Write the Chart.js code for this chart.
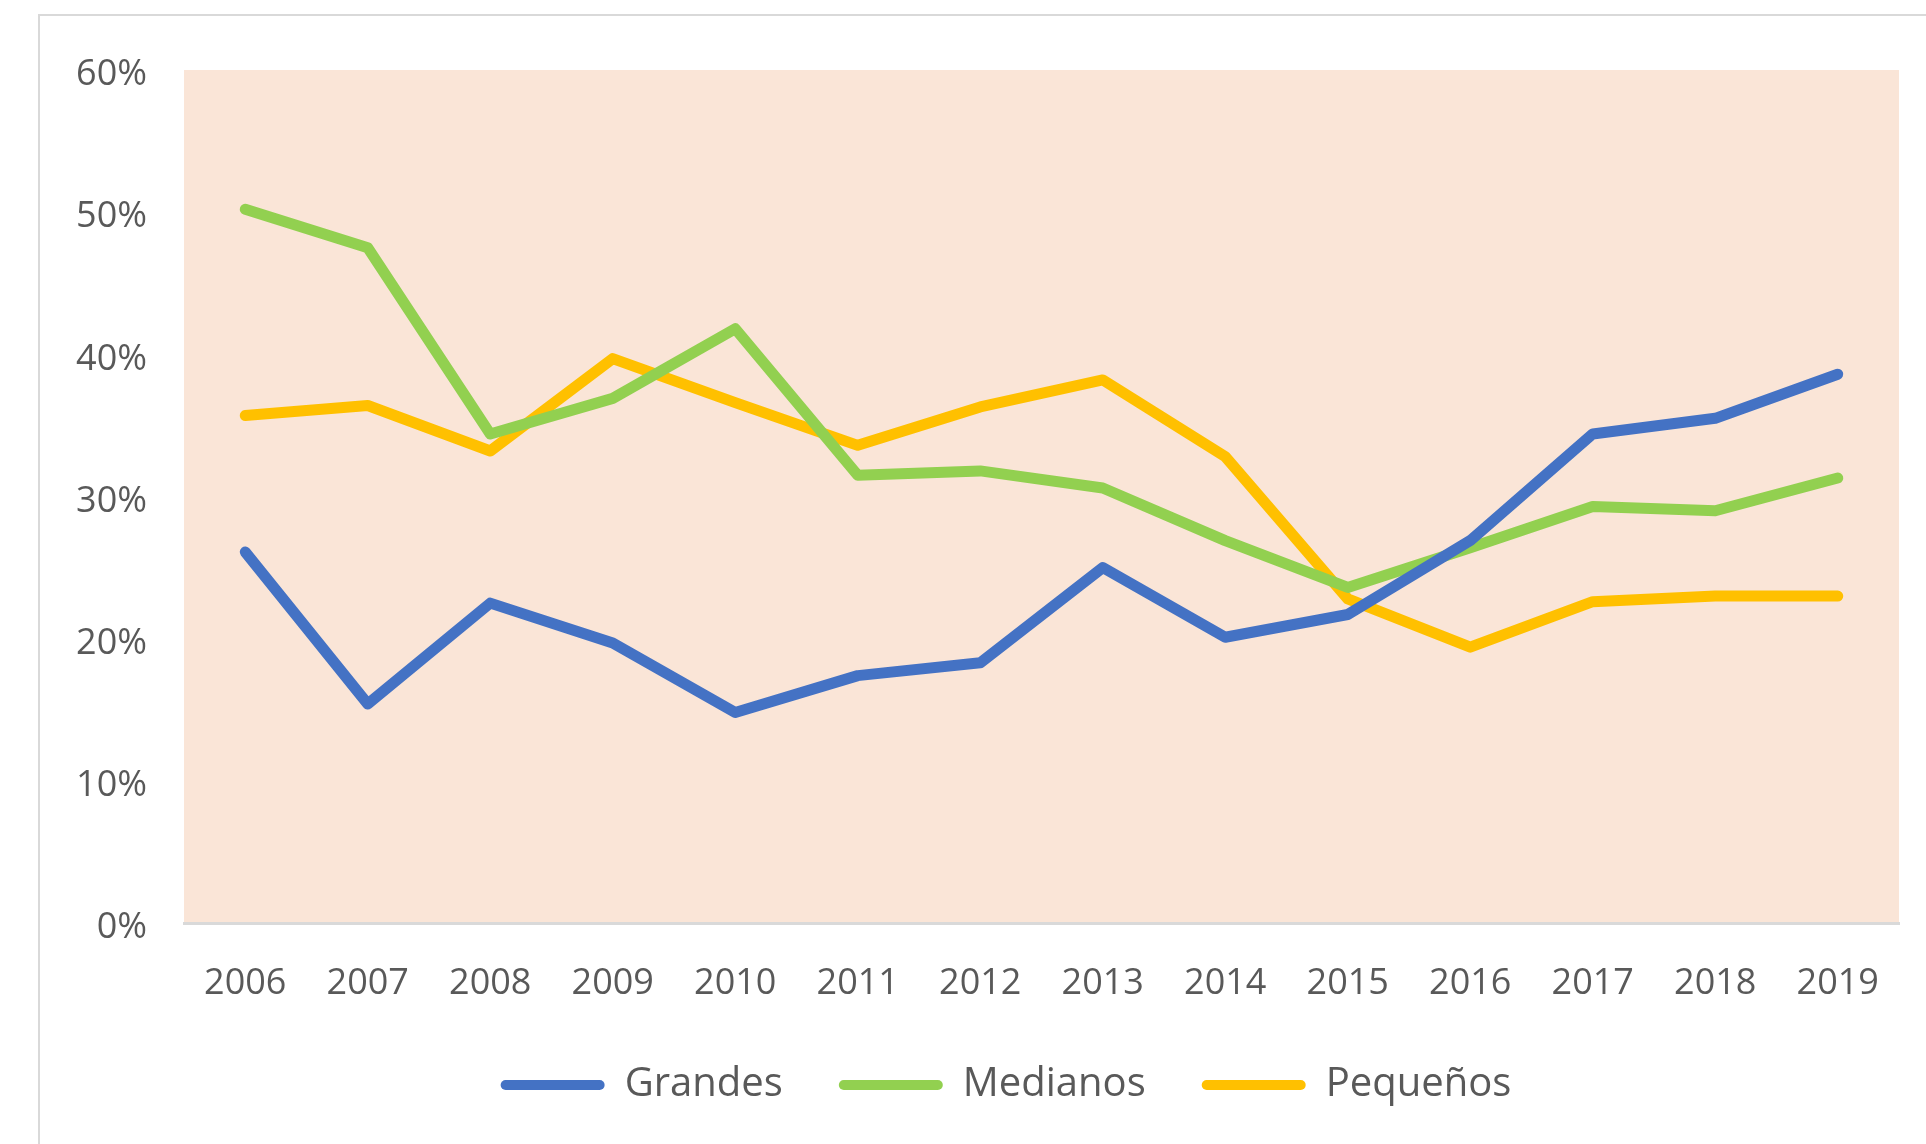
<!DOCTYPE html>
<html>
<head>
<meta charset="utf-8">
<script src="https://cdn.jsdelivr.net/npm/chart.js@4/dist/chart.umd.min.js"></script>
<style>
  html, body { margin: 0; padding: 0; background: #ffffff; overflow: hidden; }
  #frame {
    position: absolute; left: 38px; top: 14px; width: 2000px; height: 1200px;
    border-left: 2px solid #d9d9d9; border-top: 2px solid #d9d9d9;
  }
  #wrap { position: absolute; left: 0; top: 0; width: 1926px; height: 1144px; overflow: hidden; }
</style>
</head>
<body>
<div id="frame"></div>
<div id="wrap"><canvas id="myChart" width="1958" height="1144"></canvas></div>
<script>
'use strict';

//data (percent)
let years = ['2006', '2007', '2008', '2009', '2010', '2011', '2012', '2013', '2014', '2015', '2016', '2017', '2018', '2019'];
let grandes = [26.1, 15.4, 22.5, 19.7, 14.8, 17.4, 18.3, 25.0, 20.1, 21.7, 26.9, 34.4, 35.5, 38.6];
let medianos = [50.2, 47.5, 34.4, 36.9, 41.8, 31.5, 31.8, 30.6, 26.9, 23.6, 26.4, 29.3, 29.0, 31.3];
let pequenos = [35.7, 36.4, 33.2, 39.7, 36.6, 33.6, 36.3, 38.2, 32.8, 22.8, 19.4, 22.6, 23.0, 23.0];
let yTicks = [0, 10, 20, 30, 40, 50, 60];

let textColor = '#595959';
let fontName = '"Open Sans", sans-serif';

//paint the plot area before anything else
let plotBackground = {
  id: 'plotBackground',
  beforeDraw(chart) {
    let area = chart.chartArea;
    let ctx = chart.ctx;
    ctx.save();
    ctx.fillStyle = '#fae5d7';
    ctx.fillRect(area.left, area.top, area.right - area.left, area.bottom - area.top);
    ctx.restore();
  }
};

function makeSeries(label, values, color) {
  return {
    label: label,
    data: values,
    borderColor: color,
    backgroundColor: color,
    borderWidth: 11,
    borderCapStyle: 'round',
    borderJoinStyle: 'round',
    pointRadius: 0,
    pointHoverRadius: 0,
    tension: 0,
    fill: false
  };
}

let chartObject = {
  type: 'line',
  data: {
    labels: years,
    datasets: [
      makeSeries('Grandes', grandes, '#4472c4'),
      makeSeries('Medianos', medianos, '#92d050'),
      makeSeries('Pequeños', pequenos, '#ffc000')
    ]
  },
  options: {
    responsive: false,
    animation: false,
    layout: {
      padding: { left: 70, right: 16, top: 70, bottom: 29 }
    },
    scales: {
      x: {
        offset: true,
        grid: { display: false, drawTicks: false },
        border: { display: true, color: '#d9d9d9', width: 3 },
        ticks: {
          color: textColor,
          font: { family: fontName, size: 36 },
          padding: 39,
          maxRotation: 0,
          autoSkip: false
        },
        afterFit(scale) {
          scale.height = 86;
        }
      },
      y: {
        min: 0,
        max: 60,
        grid: { display: false, drawTicks: false },
        border: { display: false },
        afterBuildTicks(scale) {
          scale.ticks = yTicks.map(v => ({ value: v }));
        },
        ticks: {
          color: textColor,
          font: { family: fontName, size: 36 },
          padding: 37,
          labelOffset: 5,
          callback: v => v + '%'
        },
        afterFit(scale) {
          scale.width = 114;
        }
      },
      // empty right margin so the legend centres like the original
      spacer: {
        position: 'right',
        display: true,
        grid: { display: false, drawTicks: false },
        border: { display: false },
        ticks: { display: false },
        afterFit(scale) {
          scale.width = 43;
        }
      }
    },
    plugins: {
      tooltip: { enabled: false },
      legend: {
        position: 'bottom',
        labels: {
          color: textColor,
          font: { family: fontName, size: 40 },
          boxWidth: 104,
          boxHeight: 10,
          padding: 56,
          useBorderRadius: true,
          borderRadius: 5,
          generateLabels(chart) {
            let items = Chart.defaults.plugins.legend.labels.generateLabels(chart);
            items.forEach(item => {
              item.lineWidth = 0;
              item.fillStyle = item.strokeStyle;
            });
            return items;
          }
        }
      }
    }
  },
  plugins: [plotBackground]
};

let ctx = document.getElementById('myChart').getContext('2d');
let myChart = new Chart(ctx, chartObject);
</script>
</body>
</html>
